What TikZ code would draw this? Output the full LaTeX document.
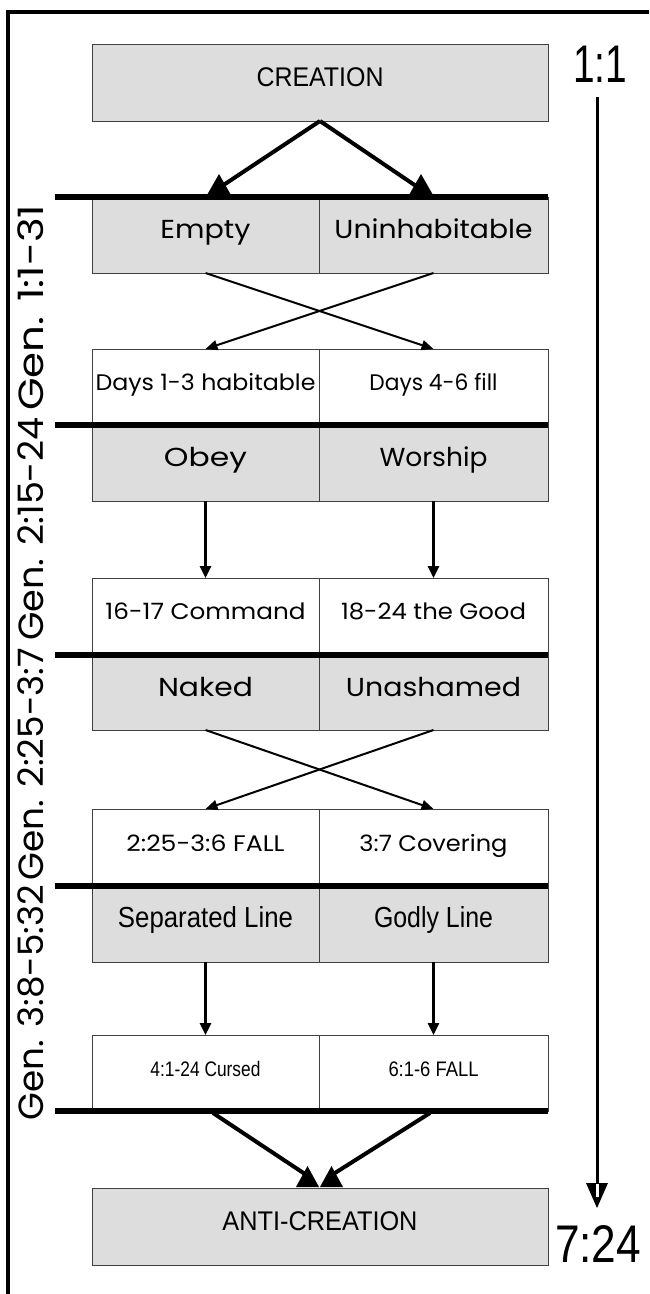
\documentclass[tikz,border=0pt]{standalone}
\usepackage{fontspec}
\setmainfont{Liberation Sans}
\newfontfamily\geo{Poppins}
\usetikzlibrary{arrows.meta}
\definecolor{cellgray}{RGB}{221,221,221}
% set a text to a given width, keeping its natural height
\newcommand{\fitw}[2]{\resizebox{#1}{\height}{#2}}
\begin{document}
\begin{tikzpicture}[x=1pt,y=-1pt,
  cellbox/.style={draw=black!75, line width=0.8pt, rectangle, inner sep=0pt, outer sep=0pt, anchor=north west, text height=0.7em, text depth=0pt},
  lc/.style={cellbox, minimum width=227pt},
  rc/.style={cellbox, minimum width=229pt},
  grayc/.style={fill=cellgray, minimum height=76pt, font=\geo\fontsize{26}{26}\selectfont},
  whitec/.style={fill=white, minimum height=76pt, font=\geo\fontsize{22.5}{22.5}\selectfont},
  arialc/.style={font=\fontsize{29}{29}\selectfont},
  arialsmall/.style={font=\fontsize{21}{21}\selectfont},
  bigbox/.style={cellbox, fill=cellgray, minimum width=456pt, minimum height=77pt, font=\fontsize{27}{27}\selectfont},
  bar/.style={line width=6pt},
  flow/.style={line width=2pt, -{Triangle[length=12pt,width=10pt]}},
  vflow/.style={line width=2.5pt, -{Triangle[length=12pt,width=11pt]}},
  thickflow/.style={line width=4pt},
  genlabel/.style={rotate=90, anchor=west, font=\geo\fontsize{35}{35}\selectfont, inner sep=0pt, text height=0.7em, text depth=0pt},
  verse/.style={font=\fontsize{53}{53}\selectfont, inner sep=0pt},
]
\useasboundingbox (0,0) rectangle (649,1294);
% frame
\draw[line width=3.5pt] (8,1294) -- (8,12) -- (649,12);

% creation
\node[bigbox] (creation) at (92,44) {\fitw{127pt}{CREATION}};

% row 1
\node[lc, grayc] (empty) at (92,197) {\fitw{90pt}{Empty}};
\node[rc, grayc] (uninh) at (319,197) {\fitw{198pt}{Uninhabitable}};
% row 2
\node[lc, whitec] (days13) at (92,349) {\fitw{220pt}{Days 1-3 habitable}};
\node[rc, whitec] (days46) at (319,349) {\fitw{128pt}{Days 4-6 fill}};
% row 3
\node[lc, grayc] (obey) at (92,425) {\fitw{83pt}{Obey}};
\node[rc, grayc] (worship) at (319,425) {\fitw{108pt}{Worship}};
% row 4
\node[lc, whitec] (command) at (92,578) {\fitw{200pt}{16-17 Command}};
\node[rc, whitec] (good) at (319,578) {\fitw{185pt}{18-24 the Good}};
% row 5
\node[lc, grayc, minimum height=75pt] (naked) at (92,655) {\fitw{95pt}{Naked}};
\node[rc, grayc, minimum height=75pt] (unash) at (319,655) {\fitw{175pt}{Unashamed}};
% row 6
\node[lc, whitec, minimum height=77pt] (fall) at (92,809) {\fitw{158pt}{2:25-3:6 FALL}};
\node[rc, whitec, minimum height=77pt] (covering) at (319,809) {\fitw{148pt}{3:7 Covering}};
% row 7
\node[lc, grayc, arialc] (sep) at (92,886) {\fitw{175pt}{Separated Line}};
\node[rc, grayc, arialc] (godly) at (319,886) {\fitw{119pt}{Godly Line}};
% row 8
\node[lc, whitec, arialsmall] (cursed) at (92,1035) {\fitw{110pt}{4:1-24 Cursed}};
\node[rc, whitec, arialsmall] (fall6) at (319,1035) {\fitw{90pt}{6:1-6 FALL}};

% anti-creation
\node[bigbox] (anti) at (92,1188) {\fitw{195pt}{ANTI-CREATION}};

% thick bars
\draw[bar] (55,197) -- (548,197);
\draw[bar] (55,425) -- (548,425);
\draw[bar] (55,655) -- (548,655);
\draw[bar] (55,886) -- (548,886);
\draw[bar] (55,1111) -- (548,1111);

% top split
\coordinate (tl) at (222,186);
\coordinate (tr) at (416,186);
\draw[thickflow] (creation.south) -- (tl);
\draw[thickflow] (creation.south) -- (tr);
\fill (207,195) -- (219,174) -- (231,195) -- cycle;
\fill (409,195) -- (421,174) -- (433,195) -- cycle;

% arrows between rows
\draw[flow] (empty.south) -- (days46.north);
\draw[flow] (uninh.south) -- (days13.north);
\draw[vflow] (obey.south) -- (command.north);
\draw[vflow] (worship.south) -- (good.north);
\draw[flow] (naked.south) -- (covering.north);
\draw[flow] (unash.south) -- (fall.north);
\draw[vflow] (sep.south) -- (cursed.north);
\draw[vflow] (godly.south) -- (fall6.north);

% bottom merge
\coordinate (bl0) at (213,1113);
\coordinate (br0) at (430,1113);
\coordinate (bl) at (311,1178);
\coordinate (br) at (327,1178);
\draw[thickflow] (bl0) -- (bl);
\draw[thickflow] (br0) -- (br);
\fill (296,1187) -- (307.5,1166) -- (319,1187) -- cycle;
\fill (320,1187) -- (331.5,1166) -- (343,1187) -- cycle;

% right timeline
\node[verse] (v1) at (600,64) {\fitw{54pt}{1:1}};
\node[verse] (v2) at (598,1244) {\fitw{86pt}{7:24}};
\coordinate (ra) at (597,97);
\coordinate (rb) at (597,1184);
\draw[line width=3pt] (ra) -- (rb);
\fill (586,1183) -- (608,1183) -- (597,1208) -- cycle;
\fill[white] (596,1184) rectangle (598.5,1197);

% left labels
\node[genlabel] (g1) at (40,411) {\fitw{206pt}{Gen. 1:1-31}};
\node[genlabel] (g2) at (40,641) {\fitw{223pt}{Gen. 2:15-24}};
\node[genlabel] (g3) at (40,881) {\fitw{233pt}{Gen. 2:25-3:7}};
\node[genlabel] (g4) at (40,1121) {\fitw{236pt}{Gen. 3:8-5:32}};
\end{tikzpicture}
\end{document}
